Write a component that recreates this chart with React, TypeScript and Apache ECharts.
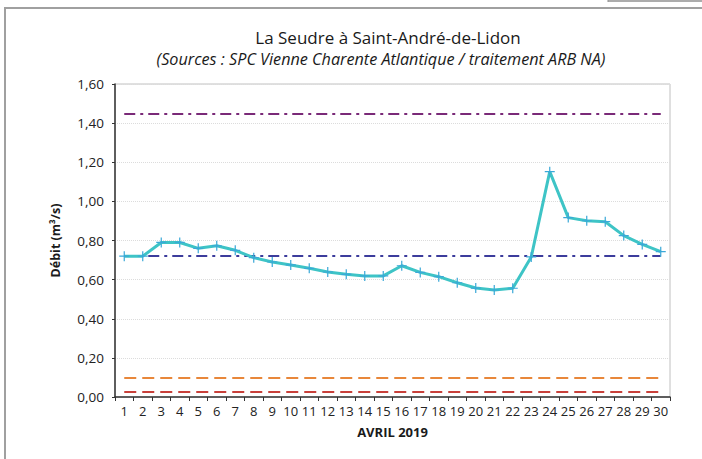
import React, { useEffect, useRef } from "react";
import * as echarts from "echarts";

const days = ["1","2","3","4","5","6","7","8","9","10","11","12","13","14","15","16","17","18","19","20","21","22","23","24","25","26","27","28","29","30"];
const debit = [0.72,0.72,0.79,0.79,0.76,0.773,0.75,0.712,0.69,0.675,0.658,0.639,0.627,0.619,0.619,0.671,0.637,0.615,0.584,0.557,0.547,0.556,0.716,1.152,0.917,0.901,0.896,0.825,0.78,0.743];
const thresholdValues = [1.45, 0.72, 0.1, 0.025];
const thresholdColors = ["#7a2a78", "#3c3c9c", "#e8873a", "#c8403a"];
const yTicks = [0, 0.2, 0.4, 0.6, 0.8, 1.0, 1.2, 1.4, 1.6];

const FONT = "'Open Sans', 'Noto Sans', sans-serif";

export default function App() {
  const ref = useRef<HTMLDivElement>(null);
  useEffect(() => {
    if (!ref.current) return;
    const chart = echarts.init(ref.current, undefined, { renderer: "svg" });
    const dashTypes: any[] = [[11, 5, 3, 5], [11, 5, 3, 5], [12, 6], [12, 6]];
    chart.setOption({
      animation: false,
      backgroundColor: "#ffffff",
      graphic: [
        { type: "polyline", shape: { points: [[5, 459], [5, 8], [702, 8]] }, style: { stroke: "#a0a0a0", lineWidth: 2, fill: "none" } },
        { type: "line", shape: { x1: 608, y1: 1, x2: 702, y2: 1 }, style: { stroke: "#909090", lineWidth: 1.5 } },
        { type: "line", shape: { x1: 608, y1: 0, x2: 608, y2: 2 }, style: { stroke: "#909090", lineWidth: 1 } },
        { type: "text", x: 388, y: 37, style: { text: "La Seudre à Saint-André-de-Lidon", font: "17px " + FONT, fill: "#1a1a1a", textAlign: "center", textVerticalAlign: "middle" } },
        { type: "text", x: 381, y: 59, style: { text: "(Sources : SPC Vienne Charente Atlantique / traitement ARB NA)", font: "italic 16.2px " + FONT, fill: "#1a1a1a", textAlign: "center", textVerticalAlign: "middle" } },
      ],
      grid: { left: 115, right: 32, top: 84, bottom: 62, show: true, borderColor: "#c0c0c0", borderWidth: 1 },
      xAxis: {
        type: "category",
        data: days,
        boundaryGap: true,
        name: "AVRIL 2019",
        nameLocation: "middle",
        nameGap: 28,
        nameTextStyle: { fontFamily: FONT, fontWeight: "bold", fontSize: 13, color: "#1a1a1a" },
        axisLine: { lineStyle: { color: "#333", width: 1.5 } },
        axisTick: { show: true, alignWithLabel: false, length: 4, lineStyle: { color: "#333" } },
        axisLabel: { fontFamily: FONT, fontSize: 13, color: "#222", margin: 7, interval: 0 },
        splitLine: { show: false },
      },
      yAxis: {
        type: "value",
        min: 0,
        max: 1.6,
        interval: 0.2,
        name: "Débit (m³/s)",
        nameLocation: "middle",
        nameGap: 53,
        nameTextStyle: { fontFamily: FONT, fontWeight: "bold", fontSize: 12.5, color: "#1a1a1a" },
        axisLine: { show: true, lineStyle: { color: "#333", width: 1.5 } },
        axisTick: { show: true, length: 3, lineStyle: { color: "#333" } },
        axisLabel: {
          fontFamily: FONT, fontSize: 13.5, color: "#222", margin: 11,
          formatter: (v: number) => (yTicks.some((t) => Math.abs(t - v) < 1e-9) ? v.toFixed(2).replace(".", ",") : ""),
        },
        splitLine: { show: true, lineStyle: { color: "#dcdcdc", type: "dotted", width: 1 } },
      },
      series: [
        ...thresholdValues.map((v, i) => ({
          type: "line",
          data: [],
          silent: true,
          markLine: {
            silent: true,
            symbol: "none",
            label: { show: false },
            lineStyle: { color: thresholdColors[i], width: 2, type: dashTypes[i] },
            data: [[{ coord: [days[0], v] }, { coord: [days[days.length - 1], v] }]],
          },
        })),
        {
          type: "line",
          data: debit,
          z: 5,
          lineStyle: { color: "#3ec4c6", width: 3 },
          itemStyle: { color: "#3aa8d8", borderWidth: 0 },
          symbol: "path://M4.4,0 L5.6,0 L5.6,4.4 L10,4.4 L10,5.6 L5.6,5.6 L5.6,10 L4.4,10 L4.4,5.6 L0,5.6 L0,4.4 L4.4,4.4 Z",
          symbolSize: 10,
          showSymbol: true,
        },
      ],
    });
    return () => chart.dispose();
  }, []);
  return <div ref={ref} style={{ width: 702, height: 459, position: "absolute", left: 0, top: 0 }} />;
}
